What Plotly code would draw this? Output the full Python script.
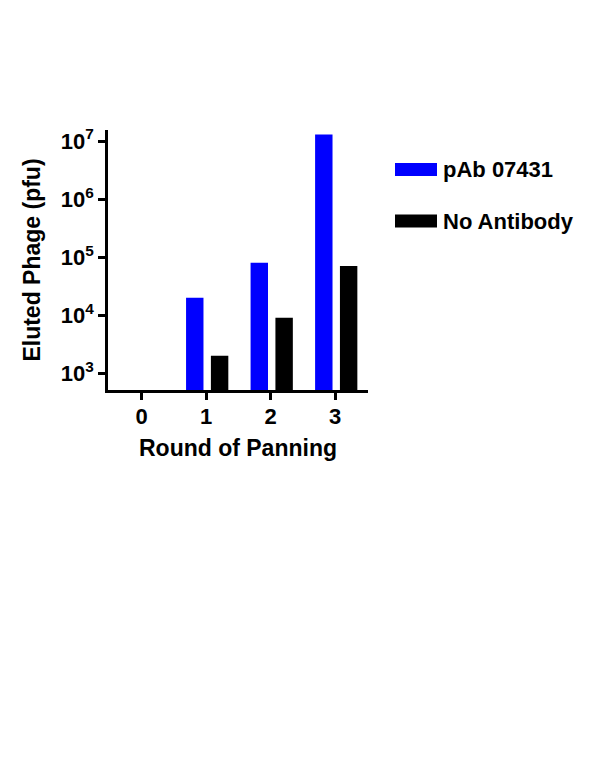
import plotly.graph_objects as go

rounds = [0, 1, 2, 3]
pab_07431 = [None, 2.0e4, 8.0e4, 1.3e7]
no_antibody = [None, 2.0e3, 9.0e3, 7.0e4]

tick_vals = [1e3, 1e4, 1e5, 1e6, 1e7]
tick_text = ["10<sup>3</sup>", "10<sup>4</sup>", "10<sup>5</sup>", "10<sup>6</sup>", "10<sup>7</sup>"]

BLUE = "#0000ff"
FONT = "Liberation Sans"

# the page puts the figure 8px in from the corner, so margins are reduced by 8
L, R, T, B = 100, 240, 122, 394
PW, PH = 600 - L - R, 776 - T - B

fig = go.Figure()
fig.add_trace(go.Bar(x=rounds, y=pab_07431, name="pAb 07431", marker_color=BLUE,
                     marker_line_width=0, width=0.27, offset=-0.31))
fig.add_trace(go.Bar(x=rounds, y=no_antibody, name="No Antibody", marker_color="black",
                     marker_line_width=0, width=0.27, offset=0.075))

fig.update_xaxes(
    range=[-0.52, 3.51], tickvals=rounds, ticktext=[str(r) for r in rounds],
    showline=True, linecolor="black", linewidth=2.5, ticks="outside", ticklen=7,
    tickwidth=2.5, tickcolor="black", showgrid=False, zeroline=False,
    tickfont=dict(family=FONT, size=22, color="black", weight="bold"),
    ticklabelstandoff=-2,
    title=dict(text="<b>Round of Panning</b>", standoff=12,
               font=dict(family=FONT, size=23, color="black")),
)
fig.update_yaxes(
    type="log", range=[2.71, 7.19], tickvals=tick_vals, ticktext=tick_text,
    showline=True, linecolor="black", linewidth=2.5, ticks="outside", ticklen=7,
    tickwidth=2.5, tickcolor="black", showgrid=False, zeroline=False,
    tickfont=dict(family=FONT, size=22, color="black", weight="bold"),
    title=dict(text="<b>Eluted Phage (pfu)</b>", standoff=14,
               font=dict(family=FONT, size=23, color="black")),
)

# legend drawn by hand to match the wide swatches (positions in screen px)
legend_items = [("pAb 07431", BLUE, 169.5), ("No Antibody", "black", 221)]
def px_x(x):
    return (x - 8 - L) / PW
def px_y(y):
    return (776 - (y - 8) - B) / PH

for label, color, ypx in legend_items:
    fig.add_shape(type="rect", xref="paper", yref="paper",
                  x0=px_x(395), x1=px_x(437), y0=px_y(ypx + 6.5), y1=px_y(ypx - 6.5),
                  fillcolor=color, line_width=0)
    fig.add_annotation(text=f"<b>{label}</b>", xref="paper", yref="paper",
                       x=px_x(441), y=px_y(ypx),
                       xanchor="left", yanchor="middle", showarrow=False,
                       font=dict(family=FONT, size=22, color="black"))

fig.update_layout(
    width=600, height=776, showlegend=False,
    plot_bgcolor="white", paper_bgcolor="white",
    font=dict(family=FONT, color="black"),
    margin=dict(l=L, r=R, t=T, b=B),
    barmode="group",
)

fig.write_html("out.html")
